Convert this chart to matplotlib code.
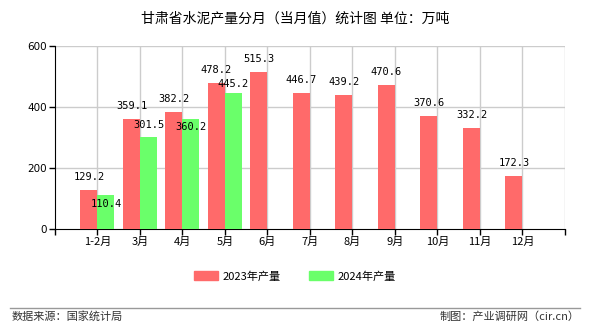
import matplotlib.pyplot as plt
from matplotlib.patches import Patch
from matplotlib.lines import Line2D

plt.rcParams['font.family'] = ['Noto Sans CJK SC', 'DejaVu Sans']

# monthly cement output, 10k tonnes
months = ["1-2月", "3月", "4月", "5月", "6月", "7月", "8月", "9月", "10月", "11月", "12月"]
output_2023 = [129.2, 359.1, 382.2, 478.2, 515.3, 446.7, 439.2, 470.6, 370.6, 332.2, 172.3]
output_2024 = [110.4, 301.5, 360.2, 445.2]
yticks = [0, 200, 400, 600]

# vertical shift (points) of the 2024 value labels so they clear the 2023 ones
label_shift_2024 = [-6.3, 8.6, -5.7, 6.6]

red = "#FF6A6A"
green = "#6AFF6A"
bw = 0.4

fig = plt.figure(figsize=(5.9, 3.3), dpi=100)
ax = fig.add_axes([0.0932, 0.306, 0.8644, 0.555])

x = list(range(len(months)))
ax.bar([i - bw / 2 for i in x], output_2023, width=bw, color=red, zorder=3)
x24 = x[:len(output_2024)]
ax.bar([i + bw / 2 for i in x24], output_2024, width=bw, color=green, zorder=3)

mono = dict(family="DejaVu Sans Mono", fontsize=7.5, color="black", zorder=5)
for i, v in zip(x, output_2023):
    ax.annotate(f"{v}", (i - bw / 2, v), xytext=(0, 9.4), textcoords="offset points",
                ha="center", va="center", **mono)
for i, v, s in zip(x24, output_2024, label_shift_2024):
    ax.annotate(f"{v}", (i + bw / 2, v), xytext=(0, s), textcoords="offset points",
                ha="center", va="center", **mono)

ax.set_xlim(-1, len(months))
ax.set_ylim(0, 600)
ax.set_yticks(yticks)
ax.set_yticklabels([str(t) for t in yticks], fontsize=7.5, family="DejaVu Sans")
ax.set_xticks(list(range(-1, len(months) + 1)))
ax.set_xticklabels([""] + months + [""], fontsize=8)
ax.tick_params(axis="both", length=4, width=1, color="black", pad=2)

for t in yticks[1:]:
    ax.axhline(t, color="#cccccc", lw=1, zorder=1)
for i in range(0, len(months) + 1):
    ax.axvline(i, color="#cccccc", lw=1, zorder=1)

for side in ["top", "right"]:
    ax.spines[side].set_visible(False)
ax.spines["left"].set_color("black")
ax.spines["bottom"].set_color("black")

fig.text(0.5, 0.945, "甘肃省水泥产量分月（当月值）统计图 单位：万吨", ha="center", va="center",
         fontsize=10)

handles = [Patch(color=red, label="2023年产量"), Patch(color=green, label="2024年产量")]
fig.legend(handles=handles, loc="center", bbox_to_anchor=(0.5, 0.163), ncol=2, frameon=False,
           fontsize=8, handlelength=2.2, handleheight=0.9, columnspacing=2.5, handletextpad=0.4)

fig.add_artist(Line2D([0.017, 0.983], [0.067, 0.067], transform=fig.transFigure,
                      color="#999999", lw=1))
fig.text(0.02, 0.04, "数据来源：国家统计局", ha="left", va="center", fontsize=8, color="#333333")
fig.text(0.983, 0.04, "制图：产业调研网（cir.cn）", ha="right", va="center", fontsize=8,
         color="#333333")

fig.savefig("out.png", dpi=100)
